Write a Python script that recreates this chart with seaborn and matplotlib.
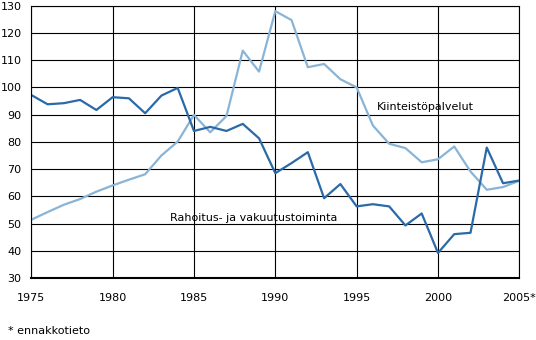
import matplotlib
matplotlib.use("Agg")
import matplotlib.pyplot as plt
import seaborn as sns
import pandas as pd

years = list(range(1975, 2006))
rahoitus = [97.2, 93.8, 94.2, 95.4, 91.7, 96.4, 96.0, 90.5, 97.0, 99.8,
            84.0, 85.5, 84.0, 86.6, 81.3, 68.5, 72.2, 76.2, 59.3, 64.5,
            56.3, 57.1, 56.3, 49.3, 53.7, 39.2, 46.1, 46.6, 77.9, 64.8, 65.8]
kiinteisto = [51.4, 54.2, 56.9, 59.0, 61.7, 64.0, 66.1, 68.1, 75.0, 80.1,
              89.9, 83.5, 89.5, 113.5, 105.8, 128.0, 124.7, 107.4, 108.6, 103.0,
              100.0, 86.0, 79.3, 77.7, 72.5, 73.6, 78.3, 69.1, 62.4, 63.4, 65.7]
series_names = ["Rahoitus- ja vakuutustoiminta", "Kiinteistöpalvelut"]
xtick_values = [1975, 1980, 1985, 1990, 1995, 2000, 2005]
xtick_labels = ["1975", "1980", "1985", "1990", "1995", "2000", "2005*"]
ytick_values = list(range(30, 131, 10))
footnote = "* ennakkotieto"

df = pd.DataFrame({
    "year": years * 2,
    "value": rahoitus + kiinteisto,
    "series": [series_names[0]] * len(years) + [series_names[1]] * len(years),
})

sns.set_theme(style="white")
plt.rcParams["font.family"] = ["DejaVu Sans"]

fig = plt.figure(figsize=(5.36, 3.40), dpi=100)
ax = fig.add_axes([31.3 / 536, 1 - 278 / 340, (519.3 - 31.3) / 536, (278 - 5.7) / 340])

palette = {series_names[0]: "#2a6aa8", series_names[1]: "#8ab4d6"}
sns.lineplot(data=df, x="year", y="value", hue="series", palette=palette,
             linewidth=1.6, ax=ax, legend=False,
             hue_order=[series_names[1], series_names[0]])

ax.set_xlim(1975, 2005)
ax.set_ylim(30, 130)
ax.set_xticks(xtick_values)
ax.set_xticklabels(xtick_labels)
ax.set_yticks(ytick_values)
ax.grid(True, color="black", linewidth=0.8)
ax.set_axisbelow(True)
for s in ax.spines.values():
    s.set_color("black")
    s.set_linewidth(0.8)
ax.spines["bottom"].set_linewidth(1.5)
ax.tick_params(axis="both", length=0, labelsize=8, colors="black")
ax.tick_params(axis="x", pad=11)
ax.tick_params(axis="y", pad=7)
ax.set_xlabel("")
ax.set_ylabel("")

ax.text(1983.55, 51.9, series_names[0], fontsize=8, va="center", ha="left", color="black")
ax.text(1996.25, 92.9, series_names[1], fontsize=8, va="center", ha="left", color="black")

fig.text(8 / 536, 1 - 331 / 340, footnote, fontsize=8, va="center", ha="left", color="black")

fig.savefig("out.png", dpi=100)
